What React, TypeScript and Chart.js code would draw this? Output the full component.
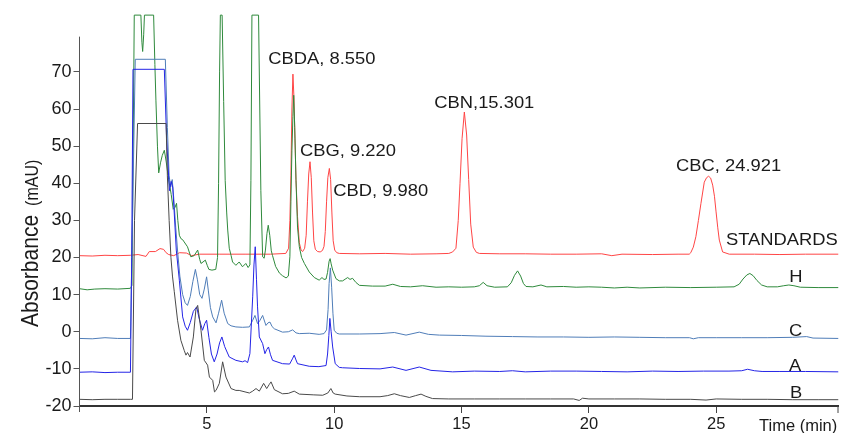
import React, { useEffect, useRef } from "react";
import { Chart, registerables } from "chart.js";

Chart.register(...registerables);

// ---------- data (time in min, absorbance in mAU) ----------
const stdT = [0, 0.5, 1.0, 1.5, 2.0, 2.3, 2.61, 2.74, 2.98, 3.16, 3.3, 3.4, 3.5, 3.7, 3.93, 4.2, 4.4, 4.7, 5.5, 6.5, 7.5, 8.1, 8.21, 8.26, 8.3, 8.34, 8.38, 8.42, 8.46, 8.5, 8.56, 8.63, 8.7, 8.76, 8.84, 8.9, 8.95, 9.0, 9.05, 9.1, 9.15, 9.2, 9.26, 9.35, 9.45, 9.54, 9.6, 9.65, 9.7, 9.75, 9.81, 9.86, 9.91, 9.96, 10.02, 10.1, 10.2, 11, 12, 13, 14, 14.5, 14.65, 14.78, 14.87, 14.94, 15.02, 15.11, 15.2, 15.28, 15.36, 15.46, 15.58, 15.7, 16.5, 17.5, 18.5, 19.5, 20.5, 20.9, 21.3, 22.5, 23.5, 23.94, 24.0, 24.1, 24.2, 24.3, 24.4, 24.53, 24.62, 24.7, 24.78, 24.86, 24.93, 24.99, 25.06, 25.12, 25.25, 25.51, 26.5, 27.5, 28.5, 29.8];
const stdV = [20.5, 20.4, 20.6, 20.5, 20.6, 20.8, 20.3, 21.6, 21.6, 22.4, 22.2, 21.3, 20.8, 20.5, 21.3, 21.2, 20.5, 20.9, 20.9, 20.9, 20.9, 21.1, 22.5, 30, 42, 60, 69.4, 63, 52, 41, 31, 24, 22, 21.6, 22.5, 26, 35, 42.5, 45.8, 41.5, 32, 24.5, 22.2, 21.6, 21.5, 21.9, 23, 27, 35, 41.5, 44, 41, 32, 24.5, 22, 21.3, 21.1, 21.0, 21.1, 20.9, 21.0, 21.1, 21.5, 22.5, 30, 40, 52, 59.2, 53, 41, 29, 22.8, 21.4, 21.1, 21.0, 21.0, 20.9, 20.9, 21.0, 20.5, 20.9, 20.8, 20.9, 20.9, 21.3, 22.8, 25.6, 30, 34.6, 40.3, 41.5, 41.9, 41.4, 39.5, 36.5, 32.5, 28, 24.7, 21.5, 20.9, 20.9, 20.8, 20.9, 20.9];

const hT = [0, 0.3, 0.6, 1.0, 1.5, 2.0, 2.06, 2.12, 2.15, 2.41, 2.45, 2.48, 2.52, 2.55, 2.91, 2.96, 3.0, 3.06, 3.11, 3.18, 3.25, 3.33, 3.4, 3.5, 3.6, 3.68, 3.75, 3.81, 3.86, 3.92, 3.98, 4.05, 4.11, 4.24, 4.37, 4.5, 4.64, 4.72, 4.77, 4.85, 4.94, 5.02, 5.08, 5.2, 5.35, 5.42, 5.46, 5.5, 5.53, 5.6, 5.66, 5.72, 5.78, 5.82, 5.88, 5.95, 6.01, 6.14, 6.27, 6.4, 6.53, 6.62, 6.69, 6.73, 6.77, 7.03, 7.12, 7.19, 7.25, 7.3, 7.36, 7.41, 7.47, 7.53, 7.58, 7.7, 7.85, 7.97, 8.11, 8.2, 8.26, 8.3, 8.34, 8.38, 8.41, 8.45, 8.5, 8.56, 8.63, 8.72, 8.83, 9.02, 9.22, 9.41, 9.52, 9.6, 9.68, 9.74, 9.8, 9.84, 9.88, 9.94, 10.07, 10.2, 10.33, 10.46, 10.53, 10.62, 10.72, 10.85, 10.99, 11.5, 12.0, 12.3, 12.6, 13.0, 13.47, 14.0, 14.5, 15.0, 15.5, 15.7, 15.85, 16.0, 16.3, 16.8, 16.95, 17.08, 17.2, 17.32, 17.43, 17.53, 17.8, 18.12, 18.35, 19.0, 19.5, 20.0, 20.5, 21.0, 21.5, 22.0, 23, 24, 25, 25.7, 25.9, 26.05, 26.2, 26.32, 26.45, 26.6, 26.78, 27.0, 27.4, 27.65, 27.85, 28.05, 28.3, 29, 29.8];
const hV = [11.6, 11.3, 11.5, 11.6, 11.5, 11.7, 12.5, 60, 85.3, 85.3, 78, 75.5, 80, 85.3, 85.3, 72, 62.4, 50, 42.8, 45.5, 47.5, 48.9, 46, 41, 37, 33, 33.5, 34.6, 30, 26, 25.1, 24.8, 24.2, 22.9, 20.2, 20.5, 22.0, 19.5, 18.4, 18.8, 19.3, 17.8, 16.8, 16.6, 16.8, 20, 40, 70, 85.3, 85.3, 62, 40.8, 32, 27.4, 22.5, 20.6, 18.8, 17.9, 18.8, 17.5, 18.4, 17.3, 18, 40.8, 85.3, 85.3, 38, 20.2, 19.8, 22, 26.5, 28.7, 26, 21.8, 20.5, 17.6, 15.8, 15.1, 14.5, 15, 20.2, 35, 48.9, 58, 63.7, 55, 40.8, 28.2, 22.9, 20, 18.4, 16.1, 14.6, 13.9, 14.6, 14.1, 14.2, 16, 19, 19.7, 18.3, 16.6, 14.3, 13.7, 13.7, 14.3, 14.6, 14.1, 14.4, 13.3, 12.5, 12.3, 12.3, 12.8, 12.2, 12.1, 12.4, 12.0, 12.1, 12.0, 12.1, 12.4, 13.3, 12.4, 12.0, 12.1, 13.2, 15.2, 16.4, 15, 13, 12.2, 12.1, 12.6, 12.1, 12.2, 12.0, 12.1, 12.0, 11.8, 12.0, 11.8, 12.0, 11.9, 12.0, 12.1, 12.8, 14.2, 15.3, 15.7, 15.1, 13.8, 12.6, 12.1, 12.1, 12.4, 12.6, 12.4, 12.0, 11.9, 11.9];

const cT = [0, 0.5, 1.0, 1.5, 2.0, 2.08, 2.19, 3.37, 3.45, 3.52, 3.58, 3.64, 3.7, 3.78, 3.86, 3.94, 4.05, 4.15, 4.24, 4.35, 4.45, 4.55, 4.63, 4.72, 4.81, 4.9, 4.99, 5.06, 5.14, 5.23, 5.36, 5.46, 5.58, 5.68, 5.82, 5.95, 6.14, 6.4, 6.67, 6.8, 6.89, 6.99, 7.08, 7.19, 7.32, 7.4, 7.48, 7.56, 7.65, 7.97, 8.2, 8.37, 8.5, 8.63, 9.02, 9.41, 9.6, 9.7, 9.76, 9.8, 9.85, 9.9, 9.95, 10.0, 10.1, 10.2, 11, 11.8, 12.36, 12.82, 13.34, 13.7, 14.13, 15, 15.96, 17, 18, 19, 20, 21, 22, 23, 23.95, 24.1, 24.3, 25, 26, 27, 28, 28.55, 28.8, 29.8];
const cV = [-1.8, -1.9, -1.6, -1.8, -1.8, 30, 73.4, 73.4, 55, 42, 39, 41, 36, 28, 21, 15, 10, 7.8, 7.1, 9.5, 13.5, 16.8, 14, 10, 9.0, 11.5, 14.8, 11, 6.5, 4.0, 2.4, 5, 8.5, 5, 2.2, 1.6, 1.3, 1.2, 1.3, 3.1, 4.4, 2.2, 3, 4.4, 1.7, 2.4, 2.6, 1.4, 0.8, -0.1, 0.0, 0.5, -0.3, -0.5, -0.4, -0.7, -0.5, 0.5, 6, 13, 17.2, 12, 5, 0.4, -0.4, -0.6, -0.6, -0.5, -0.2, -0.9, -0.1, -0.7, -0.9, -1.0, -1.2, -1.3, -1.4, -1.4, -1.5, -1.4, -1.5, -1.6, -1.6, -1.9, -1.6, -1.6, -1.6, -1.6, -1.5, -1.3, -1.7, -1.8];

const aT = [0, 0.5, 1.0, 1.5, 2.0, 2.05, 2.1, 3.33, 3.42, 3.53, 3.6, 3.66, 3.72, 3.8, 3.92, 4.05, 4.15, 4.24, 4.35, 4.47, 4.6, 4.7, 4.83, 4.92, 4.99, 5.08, 5.18, 5.29, 5.4, 5.5, 5.59, 5.7, 5.88, 6.14, 6.4, 6.5, 6.6, 6.69, 6.8, 6.85, 6.9, 6.95, 6.99, 7.06, 7.19, 7.28, 7.35, 7.42, 7.5, 7.58, 7.97, 8.25, 8.36, 8.43, 8.5, 8.56, 9.02, 9.4, 9.68, 9.74, 9.79, 9.83, 9.88, 9.94, 10.04, 10.2, 10.33, 11, 11.8, 12.3, 12.82, 13.34, 13.8, 14.65, 15.5, 16.5, 17.0, 17.5, 18.5, 19.5, 20.5, 21.5, 22.5, 23.5, 24.5, 25.5, 26.0, 26.23, 26.5, 26.8, 27.5, 28.5, 29.8];
const aV = [-10.9, -10.8, -11.0, -10.9, -10.9, 20, 70.7, 70.7, 52, 38, 40.5, 39, 32, 22, 13.9, 4.0, 1.5, 0.4, 2.5, 5.5, 6.7, 3.5, 0.4, 2.2, 3.1, -1.5, -6, -8.1, -6, -3, -1.4, -4, -6.8, -7.7, -8.1, -7.8, -8.3, -5.9, 9.4, 18, 22.9, 14, 6.7, -1.4, -3.2, -5.9, -4.8, -4.1, -6.2, -7.7, -8.6, -8.7, -7.3, -6.3, -7.6, -8.6, -9.3, -9.4, -9.1, -6, -1, 3.6, 0, -4.1, -8.6, -9.6, -9.7, -9.9, -10.0, -9.5, -10.4, -9.5, -10.4, -10.8, -10.6, -10.7, -10.5, -10.8, -10.6, -10.6, -10.7, -10.8, -10.6, -10.7, -10.6, -10.6, -10.5, -10.1, -10.5, -10.7, -10.7, -10.7, -10.8];

const bT = [0, 0.5, 1.0, 1.5, 2.0, 2.08, 2.16, 2.28, 3.4, 3.45, 3.52, 3.59, 3.65, 3.72, 3.85, 3.98, 4.11, 4.18, 4.24, 4.34, 4.47, 4.57, 4.64, 4.7, 4.77, 4.9, 5.03, 5.1, 5.23, 5.3, 5.36, 5.49, 5.62, 5.75, 5.95, 6.14, 6.27, 6.67, 6.8, 6.93, 7.06, 7.23, 7.35, 7.45, 7.52, 7.65, 7.97, 8.2, 8.43, 8.63, 9.2, 9.55, 9.75, 9.87, 9.96, 10.04, 10.5, 11, 11.8, 12.1, 12.36, 12.6, 12.95, 13.2, 13.41, 13.6, 13.86, 14.5, 15.5, 16.5, 17.5, 18.5, 19.4, 19.62, 19.75, 20.0, 21, 22, 23, 24, 24.6, 25, 26, 27, 28, 29, 29.8];
const bV = [-18.2, -18.3, -18.2, -18.2, -18.2, -18.2, 30, 56.1, 56.1, 42, 30, 20, 15, 10.9, 3.1, -2.3, -5.0, -6.3, -5.6, -6.8, -1.4, 6, 7.1, 4, 0.4, -7.7, -9.0, -12.2, -13.1, -16.2, -15.8, -13.9, -8.1, -12.2, -15.3, -15.8, -15.8, -16.5, -16.0, -15.3, -16.0, -13.9, -15.3, -14.2, -13.5, -15.6, -16.7, -16.6, -16.0, -16.8, -17.0, -17.1, -16.5, -15.3, -16.5, -16.8, -17.3, -17.5, -17.5, -17.2, -16.7, -17.2, -17.7, -17.2, -16.8, -17.4, -18.0, -18.1, -18.1, -18.1, -18.1, -18.1, -18.1, -18.5, -17.9, -18.1, -18.1, -18.1, -18.2, -18.2, -18.4, -18.1, -18.2, -18.2, -18.3, -18.3, -18.3];

const yTicks = [-20, -10, 0, 10, 20, 30, 40, 50, 60, 70];
const xTicks = [5, 10, 15, 20, 25];

const peakLabels = ["CBDA, 8.550", "CBG, 9.220", "CBD, 9.980", "CBN,15.301", "CBC, 24.921"];
const traceLabels = ["STANDARDS", "H", "C", "A", "B"];

const FONT = "'Liberation Sans', Arial, Helvetica, sans-serif";

const pts = (t: number[], v: number[]) => t.map((x, i) => ({ x, y: v[i] }));

export default function App() {
  const ref = useRef<HTMLCanvasElement | null>(null);

  useEffect(() => {
    if (!ref.current) return;

    // text anchors (left edge, vertical middle) in data units
    const peakPos = [
      [7.41, 73.4],
      [8.66, 48.5],
      [9.96, 37.7],
      [13.93, 61.5],
      [23.42, 44.5],
    ];
    const tracePos = [
      [25.38, 24.7],
      [27.87, 14.8],
      [27.86, 0.0],
      [27.86, -9.4],
      [27.9, -16.6],
    ];

    const overlay = {
      id: "overlay",
      afterDraw(chart: any) {
        const ctx = chart.ctx as CanvasRenderingContext2D;
        const xs = chart.scales.x;
        const ys = chart.scales.y;
        const ca = chart.chartArea;
        ctx.save();
        // y axis line
        ctx.strokeStyle = "#555";
        ctx.lineWidth = 1;
        ctx.beginPath();
        const ax = Math.round(ca.left) - 0.5;
        ctx.moveTo(ax, ys.getPixelForValue(79.5));
        ctx.lineTo(ax, ca.bottom + 6);
        ctx.stroke();
        // right end tick of x axis
        ctx.strokeStyle = "#444";
        ctx.beginPath();
        ctx.moveTo(ca.right - 0.5, ca.bottom);
        ctx.lineTo(ca.right - 0.5, ca.bottom + 7);
        ctx.stroke();

        ctx.fillStyle = "#1a1a1a";
        const draw = (text: string, t: number, v: number, size: number) => {
          ctx.save();
          ctx.font = `${size}px ${FONT}`;
          ctx.textBaseline = "middle";
          ctx.textAlign = "left";
          ctx.translate(xs.getPixelForValue(t), ys.getPixelForValue(v));
          ctx.scale(1.08, 1);
          ctx.fillText(text, 0, 0);
          ctx.restore();
        };
        peakLabels.forEach((s, i) => draw(s, peakPos[i][0], peakPos[i][1], 17));
        traceLabels.forEach((s, i) => draw(s, tracePos[i][0], tracePos[i][1], 17));

        // x axis title
        ctx.font = `16.5px ${FONT}`;
        ctx.textBaseline = "alphabetic";
        ctx.textAlign = "left";
        ctx.fillText("Time (min)", 759, 430.5);

        // y axis title
        ctx.save();
        ctx.translate(38, 327);
        ctx.rotate(-Math.PI / 2);
        ctx.scale(1, 1.15);
        ctx.font = `21px ${FONT}`;
        ctx.textBaseline = "alphabetic";
        ctx.fillText("Absorbance", 0, 0);
        const w = ctx.measureText("Absorbance").width;
        ctx.font = `16px ${FONT}`;
        ctx.fillText("(mAU)", w + 9, 0);
        ctx.restore();

        ctx.restore();
      },
    };

    const mk = (label: string, t: number[], v: number[], color: string) => ({
      label,
      data: pts(t, v),
      showLine: true,
      borderColor: color,
      backgroundColor: color,
      borderWidth: 1,
      pointRadius: 0,
      pointHoverRadius: 0,
      fill: false,
      tension: 0,
    });

    const chart = new Chart(ref.current, {
      type: "scatter",
      data: {
        datasets: [
          mk("B", bT, bV, "#4a4a4a"),
          mk("A", aT, aV, "#2424e6"),
          mk("C", cT, cV, "#4f7db8"),
          mk("H", hT, hV, "#2f8a3c"),
          mk("STANDARDS", stdT, stdV, "#ff4545"),
        ],
      },
      options: {
        animation: false,
        responsive: false,
        devicePixelRatio: 1,
        layout: { padding: { left: 0, right: 3.5, top: 14, bottom: 0 } },
        plugins: { legend: { display: false }, tooltip: { enabled: false } },
        events: [],
        scales: {
          x: {
            type: "linear",
            min: 0,
            max: 29.8,
            afterFit: (s: any) => {
              s.height = 27;
            },
            afterBuildTicks: (s: any) => {
              s.ticks = xTicks.map((value) => ({ value }));
            },
            border: { display: true, color: "#333", width: 2 },
            grid: { display: true, drawOnChartArea: false, drawTicks: true, tickLength: 7, color: "#444" },
            ticks: {
              color: "#1a1a1a",
              font: { family: FONT, size: 16.5 },
              padding: 2,
              maxRotation: 0,
              autoSkip: false,
            },
          },
          y: {
            type: "linear",
            min: -20,
            max: 85.6,
            afterFit: (s: any) => {
              s.width = 79.5;
            },
            afterBuildTicks: (s: any) => {
              s.ticks = yTicks.map((value) => ({ value }));
            },
            border: { display: false },
            grid: { display: true, drawOnChartArea: false, drawTicks: true, tickLength: 6, color: "#555" },
            ticks: {
              color: "#1a1a1a",
              font: { family: FONT, size: 18 },
              padding: 2,
              autoSkip: false,
            },
          },
        },
      },
      plugins: [overlay],
    });

    return () => chart.destroy();
  }, []);

  return (
    <div style={{ position: "absolute", left: 0, top: 0, width: 842, height: 433, background: "#fff" }}>
      <canvas ref={ref} width={842} height={433} style={{ display: "block", width: 842, height: 433 }} />
    </div>
  );
}
